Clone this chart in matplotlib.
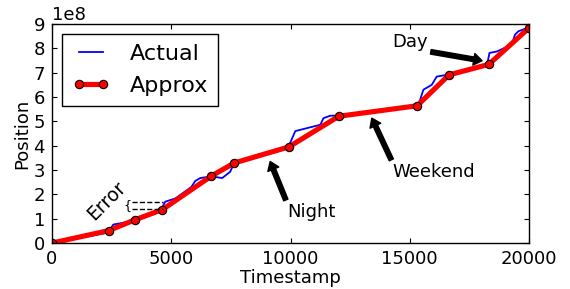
import matplotlib
matplotlib.use("Agg")
import matplotlib.pyplot as plt
import numpy as np

# Actual (blue) curve
actual_x = [0, 2359, 2568, 3406, 4538, 4748, 5167, 5838, 6005, 6214, 6675, 7136, 7471, 7639,
            9850, 10000, 10200, 11250, 11380, 11660, 12030, 15310, 15430, 15570, 15920, 16130,
            16550, 16650, 18230, 18340, 18650, 19270, 19410, 19550, 19940, 20000]
actual_y = [0, 0.43, 0.76, 0.91, 1.32, 1.70, 1.83, 2.30, 2.55, 2.67, 2.74, 2.67, 2.93, 3.29,
            3.88, 4.15, 4.60, 4.86, 5.13, 5.23, 5.24, 5.62, 5.88, 6.30, 6.50, 6.84,
            6.91, 6.93, 7.28, 7.81, 7.87, 8.15, 8.56, 8.70, 8.84, 8.85]

# Approx (red) piecewise-linear model
approx_x = [0, 2372, 3490, 4621, 6675, 7639, 9930, 12025, 15306, 16647, 18310, 20000]
approx_y = [0, 0.51, 0.96, 1.37, 2.75, 3.29, 3.95, 5.21, 5.64, 6.91, 7.34, 8.84]

scale = 1e8
xticks = [0, 5000, 10000, 15000, 20000]
yticks = [v * scale for v in range(10)]

fig = plt.figure(figsize=(5.7, 2.89), dpi=100, facecolor="white")
ax = fig.add_axes([0.0912, 0.159, 0.837, 0.758])

ax.plot(actual_x, [v * scale for v in actual_y], color="blue", lw=1.3, label="Actual")
ax.plot(approx_x, [v * scale for v in approx_y], color="red", lw=3.7, marker="o",
        markersize=6, markerfacecolor="red", markeredgecolor="black", markeredgewidth=0.8,
        label="Approx")

ax.set_xlim(0, 20000)
ax.set_ylim(0, 9 * scale)
ax.set_xticks(xticks)
ax.set_yticks(yticks)
ax.tick_params(direction="in", top=True, right=True, length=3.5, labelsize=13, pad=5)
for s in ax.spines.values():
    s.set_linewidth(1.0)
ax.yaxis.get_offset_text().set_fontsize(13)

ax.set_xlabel("Timestamp", fontsize=13, labelpad=1)
ax.set_ylabel("Position", fontsize=13, labelpad=2)

leg = ax.legend(loc="upper left", fontsize=16, numpoints=2, handlelength=1.7,
                handletextpad=0.9, borderaxespad=0.45, fancybox=False, framealpha=1,
                edgecolor="black", borderpad=0.45, labelspacing=0.55)
leg.get_frame().set_linewidth(1.0)

arrow = dict(facecolor="black", edgecolor="black", width=3.3, headwidth=8.5, headlength=6, shrink=0)
ax.annotate("Night", xy=(9147, 3.35 * scale), xytext=(9850, 1.08 * scale),
            fontsize=13, ha="left", va="baseline", arrowprops=arrow)
ax.annotate("Weekend", xy=(13408, 5.13 * scale), xytext=(14280, 2.73 * scale),
            fontsize=13, ha="left", va="baseline", arrowprops=arrow)
ax.annotate("Day", xy=(18030, 7.49 * scale), xytext=(14271, 8.04 * scale),
            fontsize=13, ha="left", va="baseline", arrowprops=arrow)

ax.text(2275, 1.73 * scale, "Error", fontsize=13.5, rotation=45, ha="center", va="center")
ax.plot([3350, 4650], [1.70 * scale, 1.70 * scale], color="black", lw=1, ls="--")
ax.plot([3350, 4650], [1.38 * scale, 1.38 * scale], color="black", lw=1, ls="--")
ax.text(3155, 1.54 * scale, "{", fontsize=9, ha="center", va="center")

fig.savefig("out.png", dpi=100, facecolor="white")
